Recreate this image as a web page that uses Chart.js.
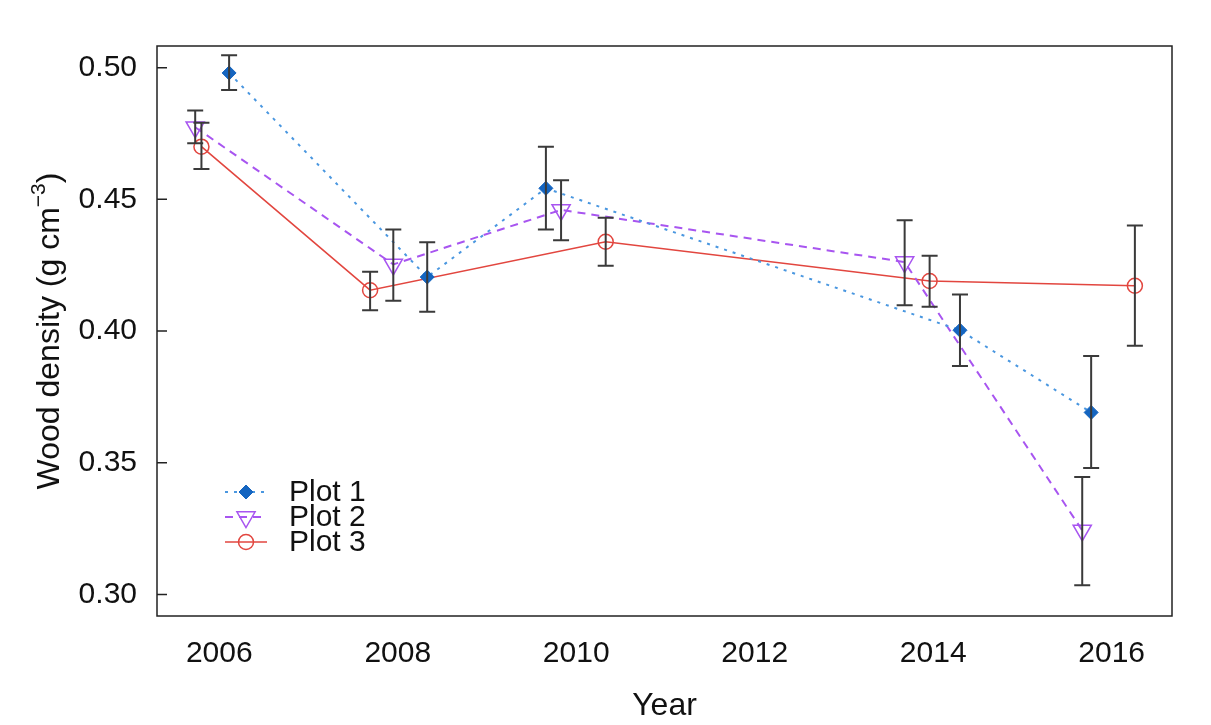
<!DOCTYPE html>
<html>
<head>
<meta charset="utf-8">
<script src="https://cdn.jsdelivr.net/npm/chart.js@4.4.1/dist/chart.umd.min.js"></script>
<style>
  html, body { margin: 0; padding: 0; background: #fff; }
  #wrap { width: 1211px; height: 725px; }
</style>
</head>
<body>
<div id="wrap"><canvas id="woodChart" width="1211" height="725"></canvas></div>
<script>
// values
const years1 = [2006.11, 2008.33, 2009.66, 2014.30, 2015.77];
const plot1 = [0.4980, 0.4205, 0.4542, 0.4003, 0.3691];
const plot1Lo = [0.4915, 0.4073, 0.4386, 0.3867, 0.3480];
const plot1Hi = [0.5047, 0.4337, 0.4700, 0.4139, 0.3905];

const years2 = [2005.73, 2007.95, 2009.83, 2013.68, 2015.67];
const plot2 = [0.4774, 0.4253, 0.4460, 0.4262, 0.3243];
const plot2Lo = [0.4713, 0.4115, 0.4345, 0.4098, 0.3035];
const plot2Hi = [0.4837, 0.4386, 0.4573, 0.4421, 0.3446];

const years3 = [2005.80, 2007.69, 2010.33, 2013.96, 2016.26];
const plot3 = [0.4700, 0.4155, 0.4339, 0.4190, 0.4172];
const plot3Lo = [0.4615, 0.4079, 0.4248, 0.4092, 0.3944];
const plot3Hi = [0.4791, 0.4225, 0.4430, 0.4286, 0.4401];

const seriesNames = ['Plot 1', 'Plot 2', 'Plot 3'];
const xTicks = [2006, 2008, 2010, 2012, 2014, 2016];
const yTicks = [0.30, 0.35, 0.40, 0.45, 0.50];

const FONT = "'Liberation Sans', Arial, Helvetica, sans-serif";

function toPoints(xs, ys) {
    return xs.map((x, i) => ({ x: x, y: ys[i] }));
}

const errorBars = [
    { xs: years1, lo: plot1Lo, hi: plot1Hi },
    { xs: years2, lo: plot2Lo, hi: plot2Hi },
    { xs: years3, lo: plot3Lo, hi: plot3Hi }
];

// frame, inward y ticks, error bars, y title and legend
const extras = {
    id: 'extras',
    afterDatasetsDraw(chart) {
        const ctx = chart.ctx;
        const area = chart.chartArea;
        const xs = chart.scales.x;
        const ys = chart.scales.y;

        ctx.save();
        // error bars
        ctx.strokeStyle = '#3a3a3a';
        ctx.lineWidth = 2;
        ctx.setLineDash([]);
        errorBars.forEach(eb => {
            eb.xs.forEach((x, i) => {
                const px = xs.getPixelForValue(x);
                const top = ys.getPixelForValue(eb.hi[i]);
                const bot = ys.getPixelForValue(eb.lo[i]);
                ctx.beginPath();
                ctx.moveTo(px, top); ctx.lineTo(px, bot);
                ctx.moveTo(px - 8, top); ctx.lineTo(px + 8, top);
                ctx.moveTo(px - 8, bot); ctx.lineTo(px + 8, bot);
                ctx.stroke();
            });
        });

        // box around the plot
        ctx.strokeStyle = '#222';
        ctx.lineWidth = 1.5;
        ctx.strokeRect(area.left, area.top, area.right - area.left, area.bottom - area.top);

        // y ticks pointing inward
        ctx.beginPath();
        yTicks.forEach(v => {
            const py = ys.getPixelForValue(v);
            ctx.moveTo(area.left, py);
            ctx.lineTo(area.left + 10, py);
        });
        ctx.stroke();

        // y axis title with superscript
        ctx.fillStyle = '#111';
        ctx.textBaseline = 'alphabetic';
        const big = '32px ' + FONT;
        const small = '21px ' + FONT;
        const main = 'Wood density (g cm';
        const sup = '\u22123';
        const tail = ')';
        ctx.font = big;
        const wMain = ctx.measureText(main).width;
        const wTail = ctx.measureText(tail).width;
        ctx.font = small;
        const wSup = ctx.measureText(sup).width;
        const total = wMain + wSup + wTail;
        ctx.translate(59, (area.top + area.bottom) / 2);
        ctx.rotate(-Math.PI / 2);
        let cx = -total / 2;
        ctx.font = big;
        ctx.fillText(main, cx, 0);
        cx += wMain;
        ctx.font = small;
        ctx.fillText(sup, cx, -14);
        cx += wSup;
        ctx.font = big;
        ctx.fillText(tail, cx, 0);
        ctx.restore();

        // legend
        ctx.save();
        ctx.font = '30px ' + FONT;
        ctx.textBaseline = 'middle';
        chart.data.datasets.forEach((ds, i) => {
            const rowY = 492 + i * 25;
            ctx.strokeStyle = ds.borderColor;
            ctx.lineWidth = ds.borderWidth;
            ctx.setLineDash(ds.borderDash || []);
            ctx.beginPath();
            ctx.moveTo(225, rowY);
            ctx.lineTo(267, rowY);
            ctx.stroke();
            ctx.setLineDash([]);
            ctx.fillStyle = ds.pointBackgroundColor;
            ctx.strokeStyle = ds.pointBorderColor;
            ctx.lineWidth = ds.pointBorderWidth;
            Chart.helpers.drawPoint(ctx, {
                pointStyle: ds.pointStyle,
                rotation: ds.pointRotation || 0,
                radius: ds.pointRadius,
                borderWidth: ds.pointBorderWidth
            }, 246, rowY);
            ctx.fillStyle = '#111';
            ctx.fillText(ds.label, 289, rowY + 1);
        });
        ctx.restore();
    }
};

const ctx = document.getElementById('woodChart').getContext('2d');
const woodChart = new Chart(ctx, {
    type: 'scatter',
    data: {
        datasets: [
            {
                label: seriesNames[0],
                data: toPoints(years1, plot1),
                showLine: true,
                borderColor: '#4a97e0',
                borderWidth: 2,
                borderDash: [3, 6],
                pointStyle: 'rectRot',
                pointRadius: 7,
                pointBackgroundColor: '#1565c0',
                pointBorderColor: '#1565c0',
                pointBorderWidth: 1
            },
            {
                label: seriesNames[1],
                data: toPoints(years2, plot2),
                showLine: true,
                borderColor: '#a855f0',
                borderWidth: 2,
                borderDash: [8, 6],
                pointStyle: 'triangle',
                pointRotation: 180,
                pointRadius: 10.5,
                pointBackgroundColor: 'rgba(0,0,0,0)',
                pointBorderColor: '#a855f0',
                pointBorderWidth: 1.5
            },
            {
                label: seriesNames[2],
                data: toPoints(years3, plot3),
                showLine: true,
                borderColor: '#e2463f',
                borderWidth: 1.6,
                pointStyle: 'circle',
                pointRadius: 7.5,
                pointBackgroundColor: 'rgba(0,0,0,0)',
                pointBorderColor: '#e2463f',
                pointBorderWidth: 1.5
            }
        ]
    },
    options: {
        responsive: false,
        animation: false,
        layout: { padding: { top: 46, right: 39, left: 0, bottom: 0 } },
        plugins: {
            legend: { display: false },
            tooltip: { enabled: false }
        },
        scales: {
            x: {
                type: 'linear',
                min: 2005.302,
                max: 2016.676,
                afterBuildTicks: s => { s.ticks = xTicks.map(v => ({ value: v })); },
                afterFit: s => { s.height = 109; },
                grid: { display: false, drawTicks: false },
                border: { display: false },
                ticks: {
                    padding: 20,
                    maxRotation: 0,
                    autoSkip: false,
                    color: '#111',
                    font: { family: FONT, size: 30 },
                    callback: v => String(v)
                },
                title: {
                    display: true,
                    text: 'Year',
                    color: '#111',
                    font: { family: FONT, size: 32 },
                    padding: 0
                }
            },
            y: {
                type: 'linear',
                min: 0.29179,
                max: 0.50824,
                afterBuildTicks: s => { s.ticks = yTicks.map(v => ({ value: v })); },
                afterFit: s => { s.width = 157; },
                grid: { display: false, drawTicks: false },
                border: { display: false },
                ticks: {
                    padding: 20,
                    autoSkip: false,
                    color: '#111',
                    font: { family: FONT, size: 30 },
                    callback: v => v.toFixed(2)
                }
            }
        }
    },
    plugins: [extras]
});
</script>
</body>
</html>
